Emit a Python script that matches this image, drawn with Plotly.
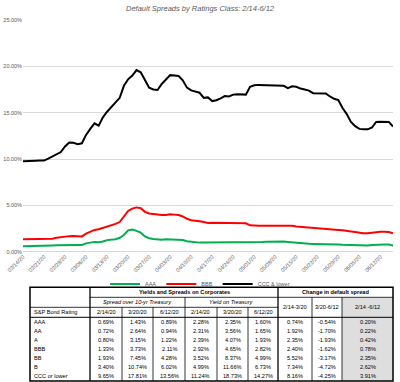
import plotly.graph_objects as go
import pandas as pd

# ---------------- data ----------------
dates = [d.strftime("%m/%d/%y") for d in pd.bdate_range("2020-02-14", periods=89)]
tick_labels = dates[::5][:18]

aaa = [0.60, 0.60, 0.61, 0.62, 0.63, 0.64, 0.66, 0.68, 0.70, 0.72,
       0.73, 0.73, 0.72, 0.72, 0.73, 0.90, 0.98, 1.05, 1.03, 1.10,
       1.25, 1.30, 1.34, 1.50, 1.80, 2.30, 2.40, 2.25, 2.05, 1.65,
       1.45, 1.38, 1.33, 1.30, 1.33, 1.33, 1.33, 1.32, 1.25, 1.12,
       1.05, 1.00, 0.98, 0.98, 0.98, 0.99, 1.00, 1.00, 1.00, 1.00,
       1.00, 1.00, 1.00, 1.00, 1.00, 1.00, 1.02, 1.05, 1.08, 1.10,
       1.12, 1.15, 1.10, 1.05, 1.00, 0.95, 0.90, 0.86, 0.85, 0.84,
       0.84, 0.83, 0.83, 0.82, 0.80, 0.78, 0.75, 0.73, 0.72, 0.70,
       0.68, 0.67, 0.68, 0.72, 0.76, 0.78, 0.78, 0.77, 0.68]

bbb = [1.33, 1.34, 1.34, 1.34, 1.35, 1.36, 1.38, 1.40, 1.50, 1.58,
       1.65, 1.68, 1.70, 1.65, 1.65, 1.95, 2.15, 2.35, 2.42, 2.55,
       2.75, 2.85, 3.00, 3.20, 3.75, 4.40, 4.65, 4.78, 4.70, 4.30,
       4.12, 4.05, 3.98, 3.96, 3.97, 4.05, 4.00, 3.95, 3.80, 3.55,
       3.40, 3.30, 3.28, 3.20, 3.10, 3.12, 3.12, 3.14, 3.12, 3.12,
       3.10, 3.08, 3.06, 3.06, 2.85, 2.80, 2.80, 2.80, 2.80, 2.80,
       2.82, 2.85, 2.88, 2.85, 2.80, 2.72, 2.68, 2.60, 2.55, 2.52,
       2.48, 2.45, 2.45, 2.42, 2.38, 2.35, 2.32, 2.25, 2.15, 2.08,
       2.05, 2.00, 1.98, 2.05, 2.12, 2.14, 2.15, 2.12, 2.00]

ccc = [9.75, 9.75, 9.76, 9.82, 9.85, 9.83, 10.05, 10.30, 10.50, 10.75,
       11.35, 11.78, 11.75, 11.60, 11.70, 12.60, 13.25, 13.85, 13.60, 14.50,
       15.10, 15.60, 16.10, 16.60, 17.90, 18.60, 19.00, 19.60, 19.35, 18.60,
       17.70, 17.50, 17.45, 18.10, 18.55, 19.05, 19.00, 18.95, 18.50, 17.70,
       17.40, 17.30, 17.15, 16.60, 16.65, 16.25, 16.35, 16.55, 16.80, 16.75,
       16.95, 17.00, 17.00, 16.95, 17.80, 17.95, 18.00, 17.98, 17.95, 17.95,
       17.92, 17.90, 17.90, 17.65, 17.85, 17.80, 17.60, 17.50, 17.38, 17.10,
       17.10, 17.10, 17.08, 16.75, 16.50, 16.35, 15.50, 14.85, 14.00, 13.55,
       13.25, 13.20, 13.20, 13.40, 14.00, 14.02, 14.00, 14.00, 13.50]

y_ticks = [0, 5, 10, 15, 20, 25]

ratings = ["AAA", "AA", "A", "BBB", "BB", "B", "CCC or lower"]
spread_0214 = ["0.69%", "0.72%", "0.80%", "1.33%", "1.93%", "3.40%", "9.65%"]
spread_0320 = ["1.43%", "2.64%", "3.15%", "3.73%", "7.45%", "10.74%", "17.81%"]
spread_0612 = ["0.89%", "0.94%", "1.22%", "2.11%", "4.28%", "6.02%", "13.56%"]
yield_0214 = ["2.28%", "2.31%", "2.39%", "2.92%", "3.52%", "4.99%", "11.24%"]
yield_0320 = ["2.35%", "3.56%", "4.07%", "4.65%", "8.37%", "11.66%", "18.73%"]
yield_0612 = ["1.60%", "1.65%", "1.93%", "2.82%", "4.99%", "6.73%", "14.27%"]
chg_0214_0320 = ["0.74%", "1.92%", "2.35%", "2.40%", "5.52%", "7.34%", "8.16%"]
chg_0320_0612 = ["-0.54%", "-1.70%", "-1.93%", "-1.62%", "-3.17%", "-4.72%", "-4.25%"]
chg_0214_0612 = ["0.20%", "0.22%", "0.42%", "0.78%", "2.35%", "2.62%", "3.91%"]

col_dates = ["2/14/20", "3/20/20", "6/12/20", "2/14/20", "3/20/20", "6/12/20"]
chg_heads = ["2/14-3/20", "3/20-6/12", "2/14 -6/12"]

# ---------------- layout helpers ----------------
W, H = 400, 382
def px(x): return x / W
def py(y): return 1 - y / H

FONT = "Liberation Sans"
GREY = "#595959"

fig = go.Figure()
for name, vals, color in [("AAA", aaa, "#00b050"), ("BBB", bbb, "#ff0000"),
                          ("CCC & lower", ccc, "#000000")]:
    fig.add_trace(go.Scatter(x=dates, y=vals, mode="lines", name=name,
                             line=dict(color=color, width=2)))

annotations = []
shapes = []

# title
annotations.append(dict(x=0.5, y=py(8), xref="paper", yref="paper",
                        text="<i>Default Spreads by Ratings Class: 2/14-6/12</i>",
                        showarrow=False, font=dict(family=FONT, size=7.5, color=GREY),
                        xanchor="center", yanchor="middle"))

# ---------------- table ----------------
col_edges = [30, 90, 122, 153, 185, 217, 248, 278, 312, 342, 393]
hdr_edges = [287.3, 297.3, 307.3, 317.3]
row_h = 9.1
data_top = hdr_edges[-1]
data_bot = data_top + row_h * len(ratings)
TF = 5.6

def txt(x, y, s, anchor="center", size=TF, color="#000000"):
    annotations.append(dict(x=px(x), y=py(y), xref="paper", yref="paper", text=s,
                            showarrow=False, xanchor=anchor, yanchor="middle",
                            font=dict(family=FONT, size=size, color=color)))

def line(x0, y0, x1, y1, w=0.8, color="#000000"):
    shapes.append(dict(type="line", xref="paper", yref="paper",
                       x0=px(x0), y0=py(y0), x1=px(x1), y1=py(y1),
                       line=dict(color=color, width=w), layer="above"))

# shaded last column
shapes.append(dict(type="rect", xref="paper", yref="paper",
                   x0=px(col_edges[9]), x1=px(col_edges[10]),
                   y0=py(hdr_edges[1]), y1=py(data_bot),
                   fillcolor="#dedede", line=dict(width=0), layer="below"))

# header texts
mid = lambda a, b: (a + b) / 2
txt(mid(col_edges[1], col_edges[7]), mid(hdr_edges[0], hdr_edges[1]),
    "<b>Yields and Spreads on Corporates</b>")
txt(mid(col_edges[7], col_edges[10]), mid(hdr_edges[0], hdr_edges[1]),
    "<b>Change in default spread</b>")
txt(mid(col_edges[1], col_edges[4]), mid(hdr_edges[1], hdr_edges[2]),
    "<i>Spread over 10-yr Treasury</i>")
txt(mid(col_edges[4], col_edges[7]), mid(hdr_edges[1], hdr_edges[2]),
    "<i>Yield on Treasury</i>")
txt(col_edges[0] + 2, mid(hdr_edges[2], hdr_edges[3]), "S&P Bond Rating", anchor="left")
for i, d in enumerate(col_dates):
    txt(mid(col_edges[1 + i], col_edges[2 + i]), mid(hdr_edges[2], hdr_edges[3]), d)
for i, d in enumerate(chg_heads):
    txt(mid(col_edges[7 + i], col_edges[8 + i]), mid(hdr_edges[1], hdr_edges[3]), d)

# data rows
columns = [spread_0214, spread_0320, spread_0612, yield_0214, yield_0320, yield_0612,
           chg_0214_0320, chg_0320_0612, chg_0214_0612]
for r, rating in enumerate(ratings):
    yc = data_top + row_h * (r + 0.5)
    txt(col_edges[0] + 2, yc, rating, anchor="left")
    for c, col in enumerate(columns):
        txt(mid(col_edges[1 + c], col_edges[2 + c]), yc, col[r])

# borders
line(col_edges[1], hdr_edges[1], col_edges[10], hdr_edges[1])
line(col_edges[0], hdr_edges[2], col_edges[7], hdr_edges[2])
line(col_edges[0], hdr_edges[3], col_edges[10], hdr_edges[3], w=1.0)
line(col_edges[1], hdr_edges[0], col_edges[1], data_bot, w=1.3)
line(col_edges[7], hdr_edges[0], col_edges[7], data_bot, w=1.3)
line(col_edges[4], hdr_edges[1], col_edges[4], data_bot)
for e in [2, 3, 5, 6]:
    line(col_edges[e], hdr_edges[2], col_edges[e], data_bot)
for e in [8, 9]:
    line(col_edges[e], hdr_edges[1], col_edges[e], data_bot)
shapes.append(dict(type="rect", xref="paper", yref="paper",
                   x0=px(col_edges[0]), x1=px(col_edges[10]),
                   y0=py(hdr_edges[0]), y1=py(data_bot),
                   line=dict(color="#000000", width=1.5), layer="above"))

fig.update_layout(
    width=W, height=H,
    margin=dict(l=0, r=0, t=0, b=0),
    paper_bgcolor="white", plot_bgcolor="white",
    font=dict(family=FONT, color=GREY),
    showlegend=True,
    legend=dict(orientation="h", x=0.5, xanchor="center", y=py(284), yanchor="middle",
                font=dict(family=FONT, size=5.5, color=GREY), itemwidth=30,
                bgcolor="rgba(0,0,0,0)", tracegroupgap=0),
    xaxis=dict(type="category", domain=[px(23), px(393)], range=[0, len(dates) - 1],
               tickmode="array", tickvals=tick_labels, ticktext=tick_labels,
               tickangle=-45, tickfont=dict(family=FONT, size=5.5, color=GREY),
               showgrid=False, showline=False, zeroline=False, ticks="", automargin=False),
    yaxis=dict(domain=[py(251.7), py(20)], range=[0, 25], tickmode="array",
               tickvals=y_ticks, ticktext=[f"{v:.2f}%" for v in y_ticks],
               tickfont=dict(family=FONT, size=5.5, color=GREY),
               showgrid=True, gridcolor="#d9d9d9", gridwidth=1,
               zeroline=True, zerolinecolor="#d9d9d9", zerolinewidth=1,
               showline=False, ticks="", automargin=False),
    annotations=annotations,
    shapes=shapes,
)

fig.write_html("out.html", config={"displayModeBar": False},
               post_script="document.body.style.margin='0';document.body.style.overflow='hidden';")
